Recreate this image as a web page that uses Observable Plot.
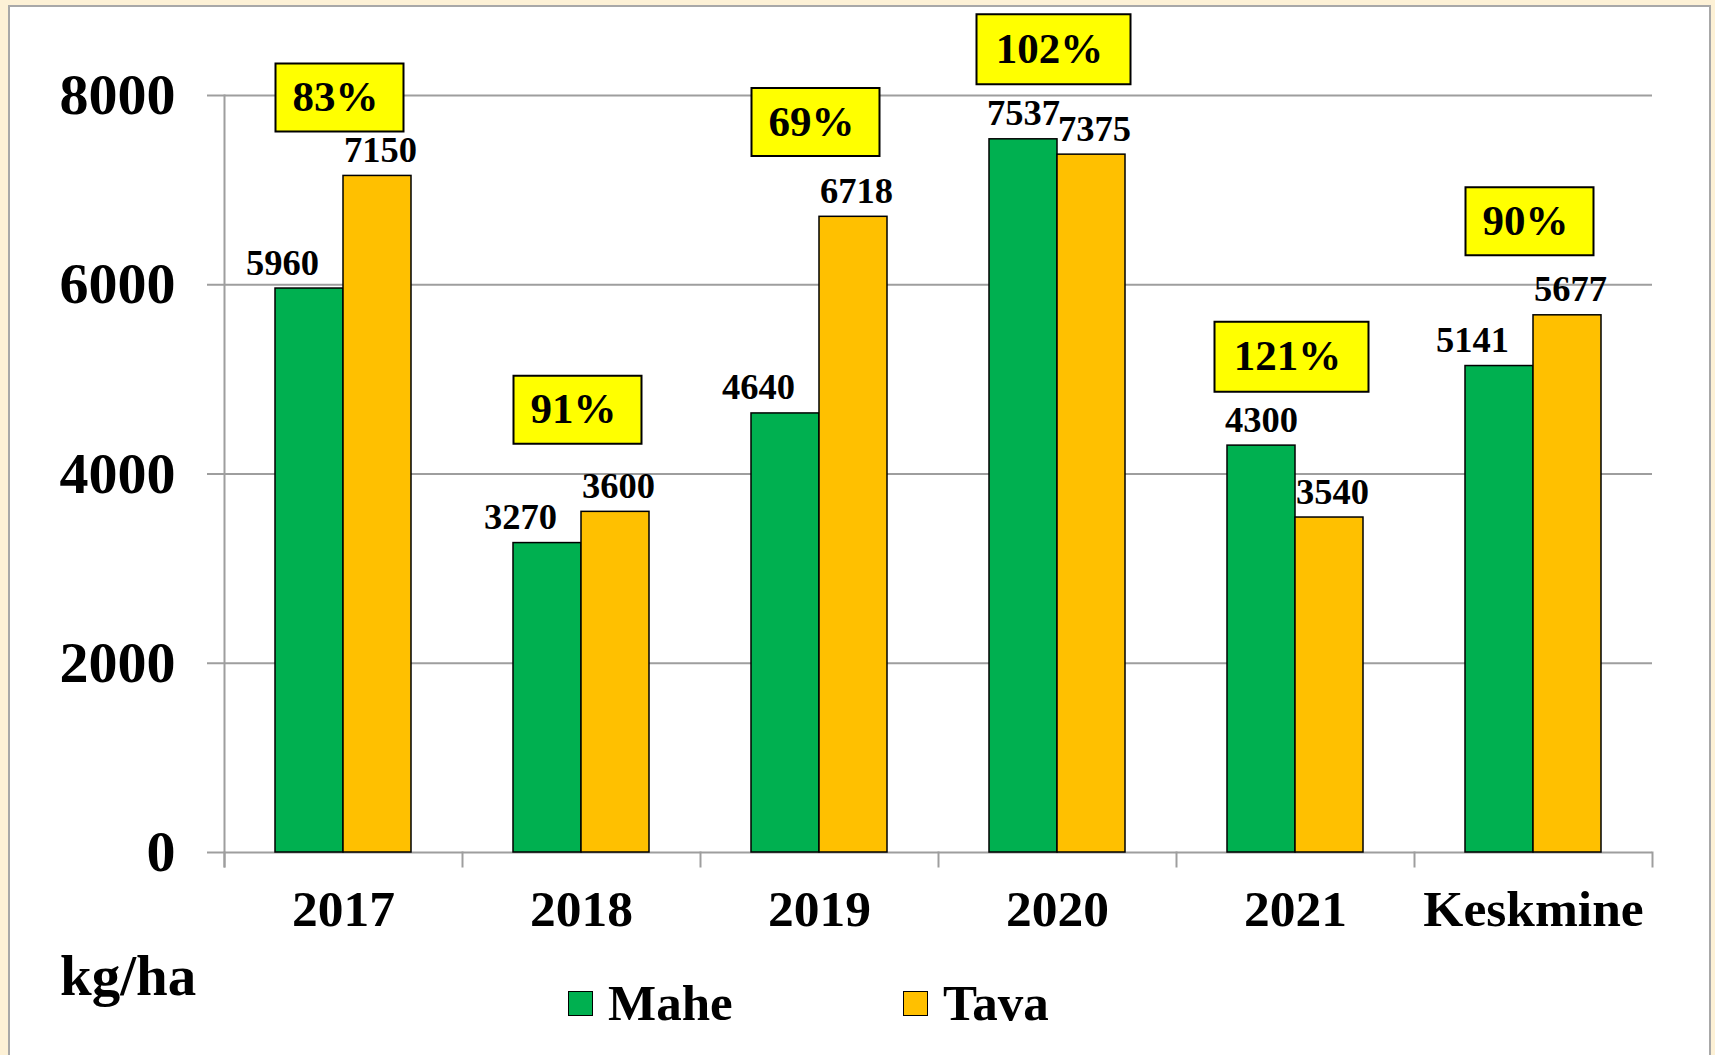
<!DOCTYPE html>
<html>
<head>
<meta charset="utf-8">
<script src="https://cdn.jsdelivr.net/npm/d3@7"></script>
<script src="https://cdn.jsdelivr.net/npm/@observablehq/plot@0.6"></script>
<style>
html, body { margin: 0; padding: 0; }
body { width: 1715px; height: 1055px; background: #FDF1D6; position: relative; overflow: hidden;
       font-family: "Liberation Serif", "Times New Roman", serif; }
#panel { position: absolute; left: 8px; top: 5px; width: 1703px; height: 1070px; background: #fff;
         border: 2px solid #A8A8A8; box-sizing: border-box; }
#wrap { position: absolute; left: 0; top: 0; width: 1715px; }
#legend { position: relative; width: 1715px; height: 115px; font-weight: bold; color: #000; }
#legend .unit { position: absolute; left: 60px; top: 7px; font-size: 57px; line-height: 57px; }
#legend .sw { position: absolute; width: 25px; height: 25px; border: 1.5px solid #000; box-sizing: border-box; top: 51px; }
#legend .lab { position: absolute; font-size: 51px; line-height: 51px; top: 38px; }
</style>
</head>
<body>
<div id="panel"></div>
<div id="wrap">
  <div id="chart"></div>
  <div id="legend"></div>
</div>
<script>
// ---- data ----
const categories = ["2017", "2018", "2019", "2020", "2021", "Keskmine"];
const series = ["Mahe", "Tava"];
const mahe = [5960, 3270, 4640, 7537, 4300, 5141];
const tava = [7150, 3600, 6718, 7375, 3540, 5677];
// Mahe as % of Tava, as printed on the chart
const pctLabels = ["83%", "91%", "69%", "102%", "121%", "90%"];
// y (kg/ha) at which each percentage box is centred
const pctY = [7980, 4680, 7720, 8490, 5240, 6670];
const yTicks = [0, 2000, 4000, 6000, 8000];
const unitLabel = "kg/ha";
const colors = ["#00B050", "#FFC000"];

// ---- derived tables ----
const rows = categories.flatMap((c, i) => [
  {cat: c, series: "Mahe", value: mahe[i], shift: tava[i] > mahe[i]},
  {cat: c, series: "Tava", value: tava[i], shift: false}
]);
const ratios = categories.map((c, i) => ({cat: c, y: pctY[i], label: pctLabels[i]}));

const boxSymbol = (w, h) => ({draw(ctx) { ctx.rect(-w / 2, -h / 2, w, h); }});
const gray = "#9E9E9E";
const frameH = 852 - 95;
const valText = {fx: "cat", x: "series", y: "value", text: d => String(d.value),
  lineAnchor: "bottom", dy: -14, fontSize: 36.5, fill: "#000"};

const chart = Plot.plot({
  width: 1715,
  height: 940,
  marginLeft: 222,
  marginRight: 61,
  marginTop: 95,
  marginBottom: 88,
  style: {fontFamily: "'Liberation Serif', 'Times New Roman', serif", fontWeight: "bold", color: "#000", background: "transparent", overflow: "visible"},
  fx: {domain: categories, padding: 0, label: null},
  x: {domain: series, paddingInner: 0, paddingOuter: 0.737, axis: null},
  y: {domain: [0, 8000], label: null},
  color: {domain: series, range: colors},
  marks: [
    Plot.gridY(yTicks.slice(1), {stroke: gray, strokeOpacity: 1, strokeWidth: 2}),
    Plot.ruleY([0], {stroke: gray, strokeWidth: 2}),
    Plot.frame({anchor: "left", facetAnchor: "left", stroke: gray, strokeWidth: 2, insetBottom: -14}),
    Plot.frame({anchor: "left", stroke: gray, strokeWidth: 2, insetTop: frameH, insetBottom: -14}),
    Plot.frame({anchor: "right", facetAnchor: "right", stroke: gray, strokeWidth: 2, insetTop: frameH, insetBottom: -14}),
    Plot.axisY(yTicks, {text: null, tickSize: 17, stroke: gray, strokeWidth: 2, label: null}),
    Plot.axisY(yTicks, {tickSize: 0, tickPadding: 49, fontSize: 58, fill: "#000", label: null, tickFormat: d => String(d)}),
    Plot.axisFx({anchor: "bottom", tickSize: 0, tickPadding: 37, fontSize: 51.5, fill: "#000", label: null}),
    Plot.barY(rows, {fx: "cat", x: "series", y: "value", fill: "series", stroke: "#000", strokeWidth: 1.5}),
    Plot.text(rows.filter(d => d.series === "Mahe" && d.shift), {...valText, dx: -27}),
    Plot.text(rows.filter(d => d.series === "Mahe" && !d.shift), {...valText}),
    Plot.text(rows.filter(d => d.series === "Tava"), {...valText, dx: 3}),
    Plot.dot(ratios.filter(d => d.label.length <= 3), {fx: "cat", y: "y", symbol: boxSymbol(128, 68),
      fill: "#FFFF00", stroke: "#000", strokeWidth: 2, dx: -4}),
    Plot.dot(ratios.filter(d => d.label.length > 3), {fx: "cat", y: "y", symbol: boxSymbol(154, 70),
      fill: "#FFFF00", stroke: "#000", strokeWidth: 2, dx: -4}),
    Plot.text(ratios, {fx: "cat", y: "y", text: "label", fontSize: 43, dx: -8, fill: "#000"})
  ]
});
document.getElementById("chart").appendChild(chart);

// ---- legend below ----
const legend = document.getElementById("legend");
const unit = document.createElement("div");
unit.className = "unit"; unit.textContent = unitLabel; legend.appendChild(unit);
const legendX = [568, 903];
series.forEach((s, i) => {
  const sw = document.createElement("div");
  sw.className = "sw"; sw.style.left = legendX[i] + "px"; sw.style.background = colors[i];
  legend.appendChild(sw);
  const lab = document.createElement("div");
  lab.className = "lab"; lab.style.left = (legendX[i] + 40) + "px"; lab.textContent = s;
  legend.appendChild(lab);
});
</script>
</body>
</html>
